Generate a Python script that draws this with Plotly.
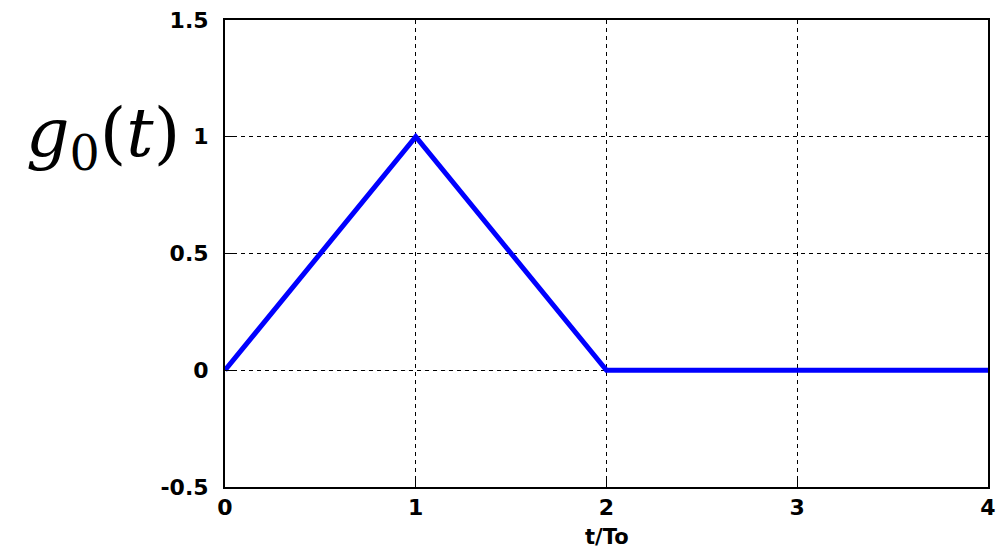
import plotly.graph_objects as go

t_vals = [0, 1, 2, 4]
g_vals = [0, 1, 0, 0]
x_ticks = [0, 1, 2, 3, 4]
y_ticks = [-0.5, 0, 0.5, 1, 1.5]
y_ticklabels = ["-0.5", "0", "0.5", "1", "1.5"]

fig = go.Figure()
fig.add_trace(go.Scatter(x=t_vals, y=g_vals, mode="lines",
                         line=dict(color="#0000FF", width=5), showlegend=False))

tickfont = dict(family="DejaVu Sans", size=22, color="black", weight="bold")
common = dict(showline=True, linecolor="black", linewidth=2, mirror=True,
              ticks="inside", ticklen=8, tickcolor="black", tickwidth=1,
              showgrid=True, gridcolor="black", gridwidth=1, griddash="4px,4px",
              zeroline=False, tickfont=tickfont, automargin=False,
              ticklabeloverflow="allow")

fig.update_xaxes(range=[0, 4], tickvals=x_ticks, ticktext=[str(v) for v in x_ticks],
                 **common)
fig.update_yaxes(range=[-0.5, 1.5], tickvals=y_ticks, ticktext=y_ticklabels,
                 ticklabelstandoff=10, **common)

fig.add_annotation(xref="paper", yref="paper", x=0.5, y=-0.108,
                   xanchor="center", yanchor="middle", showarrow=False,
                   text="t/To",
                   font=dict(family="DejaVu Sans", size=21, color="black", weight="bold"))

fig.add_annotation(xref="paper", yref="paper", x=-0.16, y=0.75,
                   xanchor="center", yanchor="middle", showarrow=False,
                   text="<i>g</i><sub>0</sub>(<i>t</i>)",
                   font=dict(family="DejaVu Serif", size=68, color="black"))

fig.update_layout(width=999, height=541, plot_bgcolor="white", paper_bgcolor="white",
                  margin=dict(l=217, r=19, t=12, b=62))

fig.write_html("out.html")
